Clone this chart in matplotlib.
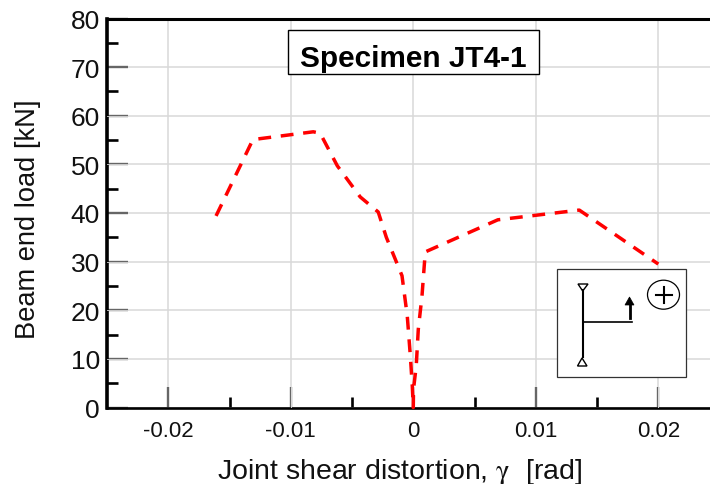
import matplotlib
matplotlib.use("Agg")
import matplotlib.pyplot as plt
from matplotlib.patches import Ellipse, Polygon, Rectangle

#curve
distortion = [-0.0161, -0.01309, -0.00816, -0.0076, -0.0062, -0.00433, -0.00286, -0.0022, -0.00092,
              -0.00049, -0.00024, -0.00008, 0.0, 0.00002, 0.00024, 0.00041, 0.00071, 0.00098,
              0.0069, 0.01355, 0.02]
load = [39.4, 55.1, 56.7, 56.4, 49.7, 43.3, 40.2, 35.0, 27.1,
        18.8, 10.6, 4.4, 0.0, 3.8, 8.5, 16.1, 22.9, 32.0,
        38.6, 40.6, 29.5]

x_ticks = [-0.02, -0.01, 0, 0.01, 0.02]
x_tick_labels = ["-0.02", "-0.01", "0", "0.01", "0.02"]
x_minor_ticks = [-0.015, -0.005, 0.005, 0.015]
y_ticks = [0, 10, 20, 30, 40, 50, 60, 70, 80]
y_minor_ticks = [5, 15, 25, 35, 45, 55, 65, 75]

#major ticks that show a light stripe in the middle
striped_x_ticks = [-0.01, 0.02]
striped_y_ticks = [10, 20, 30, 50, 60]


def px(x, y, w = 0, h = 0):
    #pixel box -> figure fraction
    return [x / 710, 1 - (y + h) / 485, w / 710, h / 485]


def draw_overlay(fig):
    #overlay in pixel coordinates for the title box and the small load sketch
    ov = fig.add_axes([0, 0, 1, 1], facecolor = "none")
    ov.set_xlim(0, 710)
    ov.set_ylim(485, 0)
    ov.axis("off")

    ov.add_patch(Rectangle((288, 31), 251, 44, fc = "white", ec = "black", lw = 1.0))
    ov.text(413, 67, "Specimen JT4-1", fontsize = 21.4, fontweight = "bold", ha = "center", va = "baseline")

    ov.add_patch(Rectangle((557, 269.5), 129, 108, fc = "white", ec = "#333333", lw = 0.9))
    ov.plot([582.7, 582.7], [291, 358], color = "black", lw = 1.5)
    ov.plot([583, 632], [322.7, 322.7], color = "black", lw = 1.2)
    ov.add_patch(Polygon([(578, 285), (588, 285), (582.7, 292)], fc = "white", ec = "black", lw = 1))
    ov.add_patch(Polygon([(577.5, 367), (587, 367), (582, 359)], fc = "white", ec = "black", lw = 1))
    ov.plot([629.5, 629.5], [319, 304], color = "black", lw = 2)
    ov.add_patch(Polygon([(625, 306), (634, 306), (629.5, 298)], fc = "black", ec = "black", lw = 0.5))
    ov.add_patch(Ellipse((663.5, 295.7), 32, 29, fc = "white", ec = "black", lw = 0.9))
    ov.plot([656, 672], [296, 296], color = "black", lw = 1.5)
    ov.plot([664, 664], [288, 304], color = "black", lw = 1.5)


def main():
    plt.rcParams["font.family"] = ["Liberation Sans", "DejaVu Sans"]
    plt.rcParams["mathtext.fontset"] = "stix"

    fig = plt.figure(figsize = (7.1, 4.85), dpi = 100)
    ax = fig.add_axes(px(107, 19.5, 603, 389))

    ax.plot(distortion, load, color = "#ff0000", lw = 2.5, dashes = (3.7, 2.8), zorder = 4, clip_on = False)

    ax.set_xlim(-0.025, 0.02422)
    ax.set_ylim(0, 80)

    ax.set_xticks(x_ticks)
    ax.set_xticklabels(x_tick_labels)
    ax.set_xticks(x_minor_ticks, minor = True)
    ax.set_yticks(y_ticks)
    ax.set_yticks(y_minor_ticks, minor = True)

    ax.grid(True, which = "major", color = "#d9d9d9", lw = 1.1, zorder = 0)
    ax.set_axisbelow(True)

    ax.tick_params(axis = "both", which = "major", direction = "in", length = 15, width = 1.7, color = "#666666")
    ax.tick_params(axis = "both", which = "minor", direction = "in", length = 8, width = 1.9, color = "black")
    ax.tick_params(axis = "x", which = "major", labelsize = 16, pad = 9, labelcolor = "#111111")
    ax.tick_params(axis = "y", which = "major", labelsize = 19, pad = 5, labelcolor = "#111111")

    #ticks at both ends of the y axis are solid black
    for tick, value in zip(ax.yaxis.get_major_ticks(), y_ticks):
        if value in (0, 80):
            tick.tick1line.set_color("black")

    #stripe through some of the major ticks
    for value in striped_y_ticks:
        ax.plot([0, 21 / 603], [value, value], color = "#dddddd", lw = 0.6, zorder = 3,
                transform = ax.get_yaxis_transform())
        ax.yaxis.get_major_ticks()[y_ticks.index(value)].tick1line.set_color("#222222")
    for value in striped_x_ticks:
        ax.plot([value, value], [0, 21 / 389], color = "#eeeeee", lw = 0.6, zorder = 3,
                transform = ax.get_xaxis_transform())
        ax.xaxis.get_major_ticks()[x_ticks.index(value)].tick1line.set_color("#111111")

    ax.spines["left"].set_linewidth(2.6)
    ax.spines["bottom"].set_linewidth(1.9)
    ax.spines["top"].set_linewidth(2.2)
    ax.spines["right"].set_visible(False)

    ax.set_xlabel(r"Joint shear distortion, $\mathrm{\gamma}$  [rad]", fontsize = 20.5, color = "#111111")
    ax.set_ylabel("Beam end load [kN]", fontsize = 19.6, color = "#111111")
    ax.xaxis.set_label_coords((400 - 107) / 603, (408.5 - 457) / 389)
    ax.yaxis.set_label_coords((41 - 107) / 603, (408.5 - 219) / 389)

    draw_overlay(fig)
    fig.savefig("out.png", dpi = 100)


if __name__ == '__main__':
    main()
